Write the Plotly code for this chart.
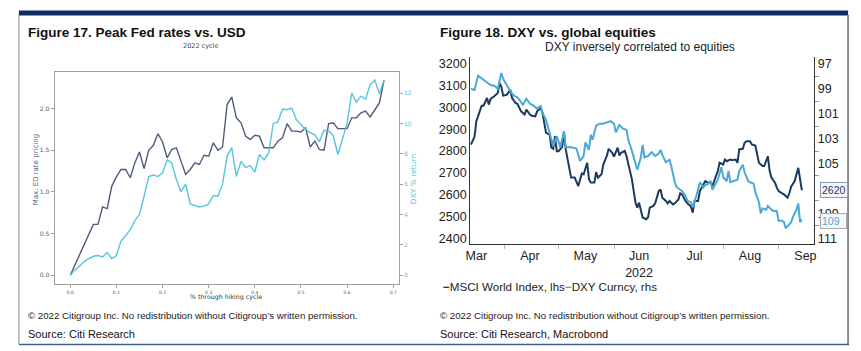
import pandas as pd
import plotly.graph_objects as go

W, H = 861, 351

# ---------------- Figure 17 data ----------------
hike_pct = [round(i * 0.01, 2) for i in range(69)]
ed_pricing = [0.00, 0.12, 0.25, 0.36, 0.48, 0.61, 0.61, 0.82, 0.80, 1.07,
              1.18, 1.27, 1.27, 1.17, 1.35, 1.48, 1.28, 1.50, 1.56, 1.70,
              1.60, 1.41, 1.51, 1.53, 1.37, 1.21, 1.27, 1.35, 1.33, 1.44,
              1.43, 1.59, 1.50, 1.54, 2.05, 2.14, 1.89, 1.83, 1.67, 1.63,
              1.68, 1.67, 1.53, 1.53, 1.53, 1.61, 1.65, 1.82, 1.73, 1.73,
              1.72, 1.77, 1.54, 1.61, 1.51, 1.50, 1.82, 1.83, 1.76, 1.76,
              1.76, 1.89, 1.89, 1.95, 1.97, 1.90, 1.99, 2.07, 2.34]
dxy_return = [0.0, 0.35, 0.6, 0.9, 1.1, 1.25, 1.3, 1.2, 1.5, 1.1,
              1.3, 2.25, 2.6, 3.0, 3.6, 4.0, 5.2, 6.5, 6.6, 6.5,
              6.75, 7.6, 7.4, 6.3, 5.5, 6.0, 4.7, 4.6, 4.5, 4.55,
              4.7, 5.25, 5.2, 6.0, 7.85, 8.4, 6.5, 7.5, 7.1, 7.2,
              6.8, 7.95, 7.6, 8.05, 10.0, 10.1, 10.95, 10.9, 11.0, 10.25,
              9.9, 9.6, 9.4, 9.25, 8.8, 9.55, 9.5, 9.2, 7.95, 9.05,
              10.0, 12.0, 11.4, 11.8, 11.6, 12.55, 12.85, 11.95, 12.85]
left_x_ticks = [0.0, 0.1, 0.2, 0.3, 0.4, 0.5, 0.6, 0.7]
left_y_ticks = [0.0, 0.5, 1.0, 1.5, 2.0]
right_y_ticks = [0, 2, 4, 6, 8, 10, 12]

# ---------------- Figure 18 data ----------------
base_date = pd.Timestamp("2022-03-01")
msci_day = [12, 14, 15, 17, 18, 19, 21, 22, 23, 25, 27, 28, 29, 30, 32, 34, 35, 37, 38, 40,
            42, 43, 45, 46, 48, 49, 51, 52, 53, 54, 56, 57, 58, 59, 60, 61, 63, 64, 65, 66,
            68, 70, 71, 72, 74, 75, 77, 78, 79, 81, 82, 83, 85, 86, 88, 89, 91, 92, 94, 95,
            96, 98, 99, 101, 102, 104, 105, 106, 108, 110, 111, 112, 114, 115, 117, 118, 119, 121, 122, 123,
            125, 126, 128, 129, 130, 132, 133, 135, 136, 137, 139, 140, 142, 143, 144, 146, 147, 149, 150, 151,
            153, 154, 155, 157, 158, 160, 161, 162, 164, 165, 166, 168, 169, 171, 172, 173, 175, 176, 178, 179,
            180, 182, 183, 184, 186, 187, 189, 190, 191, 193, 194, 195, 197]
msci = [2830, 2865, 2936, 2982, 3008, 3008, 3043, 3013, 3039, 3051, 3066, 3112, 3094, 3054, 3058, 3081, 3043, 3020, 3017, 2982,
        2967, 2990, 2967, 2962, 2959, 2982, 2998, 2975, 2929, 2883, 2875, 2815, 2810, 2868, 2799, 2799, 2819, 2886, 2807, 2769,
        2678, 2678, 2657, 2639, 2697, 2693, 2746, 2670, 2655, 2655, 2703, 2678, 2693, 2738, 2779, 2810, 2792, 2774, 2815, 2779,
        2792, 2800, 2776, 2708, 2670, 2563, 2540, 2563, 2495, 2487, 2495, 2540, 2548, 2560, 2616, 2624, 2586, 2571, 2560, 2571,
        2555, 2560, 2578, 2606, 2601, 2571, 2560, 2545, 2517, 2571, 2571, 2616, 2647, 2662, 2657, 2655, 2639, 2685, 2708, 2746,
        2738, 2761, 2753, 2761, 2758, 2761, 2746, 2807, 2810, 2838, 2845, 2845, 2830, 2825, 2792, 2746, 2731, 2731, 2776, 2708,
        2678, 2655, 2632, 2616, 2606, 2601, 2586, 2606, 2636, 2662, 2693, 2723, 2620]
dxy_day = [12, 14, 16, 18, 20, 21, 23, 25, 27, 29, 30, 32, 34, 36, 38, 39, 41, 43, 45, 47,
           49, 51, 52, 54, 55, 57, 58, 60, 62, 64, 65, 68, 70, 71, 73, 75, 76, 78, 79, 80,
           82, 84, 86, 88, 90, 92, 93, 95, 97, 99, 100, 102, 104, 105, 107, 108, 109, 111, 113, 115,
           117, 118, 119, 121, 123, 124, 126, 127, 129, 130, 132, 133, 135, 136, 138, 139, 140, 142, 143, 144,
           146, 147, 149, 150, 152, 153, 155, 156, 157, 159, 161, 162, 164, 165, 167, 168, 170, 171, 173, 174,
           175, 177, 178, 180, 181, 183, 184, 186, 187, 188, 190, 191, 192, 194, 195, 196, 197]
dxy = [99.0, 99.1, 97.96, 98.2, 98.4, 98.5, 98.7, 98.76, 99.0, 97.74, 98.2, 98.7, 99.2, 99.56, 99.7, 99.88, 100.28, 99.8, 100.2, 100.36,
       100.6, 100.4, 100.94, 101.5, 102.0, 102.9, 103.6, 102.8, 103.7, 102.4, 103.7, 103.7, 103.8, 103.8, 104.8, 104.4, 103.3, 103.9, 102.7, 103.1,
       101.96, 101.8, 101.8, 101.7, 101.6, 101.8, 102.5, 101.9, 102.2, 102.3, 103.1, 104.0, 105.1, 105.5, 104.5, 103.5, 104.5, 104.4, 104.1, 104.4,
       104.2, 103.9, 104.3, 104.9, 104.7, 105.2, 106.5, 106.9, 107.1, 107.2, 107.6, 108.0, 108.1, 108.5, 107.6, 107.1, 106.5, 106.9, 106.7, 106.7,
       106.4, 107.1, 106.5, 106.3, 105.3, 106.1, 106.4, 105.6, 106.5, 106.4, 106.3, 105.6, 105.1, 105.7, 106.4, 106.5, 106.6, 107.3, 108.1, 109.0,
       108.6, 108.7, 108.4, 108.7, 108.8, 108.8, 109.6, 109.6, 109.7, 110.2, 109.9, 109.7, 109.3, 108.7, 108.2, 109.7, 109.5]
msci_ticks = [2400, 2500, 2600, 2700, 2800, 2900, 3000, 3100, 3200]
dxy_ticks = [97, 99, 101, 103, 105, 109, 111]   # 107 is hidden behind the last-value box
dxy_minor = [98, 100, 102, 104, 106, 108, 110]
month_mid = ["2022-03-16", "2022-04-15", "2022-05-16", "2022-06-15", "2022-07-16", "2022-08-16", "2022-09-16"]
month_labels = ["Mar", "Apr", "May", "Jun<br>2022", "Jul", "Aug", "Sep"]
month_start = ["2022-04-01", "2022-05-01", "2022-06-01", "2022-07-01", "2022-08-01", "2022-09-01"]
msci_last, dxy_last = "2620", "109"

msci_dates = [base_date + pd.Timedelta(days=d) for d in msci_day]
dxy_dates = [base_date + pd.Timedelta(days=d) for d in dxy_day]


def fx(p):
    return p / W


def fy(p):
    return 1 - p / H


NAVY = "#1b3a5e"
LBLUE = "#4aa9d6"
SLATE = "#4f5b7c"
CYAN = "#55c6dc"
ARIAL = "Liberation Sans"
MPL = "DejaVu Sans"

fig = go.Figure()
fig.add_trace(go.Scatter(x=hike_pct, y=ed_pricing, mode="lines", line=dict(color=SLATE, width=1.4),
                         xaxis="x", yaxis="y", showlegend=False))
fig.add_trace(go.Scatter(x=hike_pct, y=dxy_return, mode="lines", line=dict(color=CYAN, width=1.4),
                         xaxis="x", yaxis="y2", showlegend=False))
fig.add_trace(go.Scatter(x=msci_dates, y=msci, mode="lines", line=dict(color=NAVY, width=2),
                         xaxis="x2", yaxis="y3", name="MSCI World Index, lhs", showlegend=False))
fig.add_trace(go.Scatter(x=dxy_dates, y=dxy, mode="lines", line=dict(color=LBLUE, width=2),
                         xaxis="x2", yaxis="y4", name="DXY Curncy, rhs", showlegend=False))

frame = "#a0a0a0"
fig.update_layout(
    width=W, height=H, margin=dict(l=0, r=0, t=0, b=0),
    paper_bgcolor="white", plot_bgcolor="white",
    xaxis=dict(domain=[fx(50), fx(397)], anchor="y", range=[-0.034, 0.712],
               tickvals=left_x_ticks, ticktext=[f"{v:.1f}" for v in left_x_ticks],
               tickfont=dict(family=MPL, size=4.5, color="#555"),
               showline=True, mirror=True, linecolor=frame, linewidth=1,
               ticks="outside", ticklen=3, tickcolor=frame, showgrid=False, zeroline=False),
    yaxis=dict(domain=[fy(285), fy(72)], anchor="x", range=[-0.108, 2.443],
               tickvals=left_y_ticks, ticktext=[f"{v:.1f}" for v in left_y_ticks],
               tickfont=dict(family=MPL, size=6, color=SLATE),
               showline=True, mirror=True, linecolor=frame, linewidth=1,
               ticks="outside", ticklen=3, tickcolor=frame, showgrid=False, zeroline=False),
    yaxis2=dict(overlaying="y", side="right", anchor="x", range=[-0.59, 13.40],
                tickvals=right_y_ticks, tickfont=dict(family=MPL, size=6, color=CYAN),
                ticks="outside", ticklen=3, tickcolor=frame, showgrid=False, zeroline=False,
                showline=False),
    xaxis2=dict(domain=[fx(469), fx(816)], anchor="y3", type="date",
                range=["2022-03-12 14:00", "2022-09-21"],
                tickvals=month_mid, ticktext=month_labels, ticks="",
                minor=dict(tickvals=month_start, ticks="outside", ticklen=4, tickcolor="#bbbbbb"),
                tickfont=dict(family=ARIAL, size=12.5, color="#222"),
                showline=True, linecolor="#333", linewidth=1, showgrid=False, zeroline=False),
    yaxis3=dict(domain=[fy(245), fy(57)], anchor="x2", range=[2372, 3232],
                tickvals=msci_ticks, ticks="", tickfont=dict(family=ARIAL, size=12.5, color="#222"),
                showline=True, linecolor="#333", linewidth=1, showgrid=False, zeroline=False),
    yaxis4=dict(overlaying="y3", side="right", anchor="x2", range=[111.48, 96.44],
                tickvals=dxy_ticks, ticks="",
                minor=dict(tickvals=dxy_minor, ticks="outside", ticklen=4, tickcolor="#999"),
                tickfont=dict(family=ARIAL, size=12.5, color="#222"),
                showline=True, linecolor="#333", linewidth=1, showgrid=False, zeroline=False),
)

ann = []


def text(x, y, s, size, color="#111", family=ARIAL, xanchor="left", angle=0, **kw):
    ann.append(dict(x=fx(x), y=fy(y), xref="paper", yref="paper", text=s, showarrow=False,
                    xanchor=xanchor, yanchor="middle", textangle=angle,
                    font=dict(family=family, size=size, color=color), **kw))


# headers
text(21, 33, "<b>Figure 17. Peak Fed rates vs. USD</b>", 13.5, "#111", ARIAL)
text(437, 33, "<b>Figure 18. DXY vs. global equities</b>", 13.5, "#111", ARIAL)
text(197, 46, "2022 cycle", 6.5, "#444", MPL, "center")
text(640, 47, "DXY inversely correlated to equities", 12, "#222", ARIAL, "center")
# left chart axis titles
text(31, 170, "Max. ED rate pricing", 7, SLATE, MPL, "center", -90)
text(412, 179, "DXY % return", 7.5, CYAN, MPL, "center", -90)
text(223, 298, "% through hiking cycle", 6.3, "#333", MPL, "center")
# legend (right chart)
text(440, 287, f'<span style="color:{NAVY}"><b>−</b></span>MSCI World Index, lhs'
               f'<span style="color:{LBLUE}"><b>−</b></span>DXY Curncy, rhs', 11.6, "#222", ARIAL)
# footers
cr = "© 2022 Citigroup Inc. No redistribution without Citigroup’s written permission."
text(21, 316, cr, 9.7, "#222", ARIAL)
text(437, 316, cr, 9.7, "#222", ARIAL)
text(21, 335, "Source: Citi Research", 11, "#111", ARIAL)
text(437, 335, "Source: Citi Research, Macrobond", 11, "#111", ARIAL)
# last value boxes
text(822, 191, msci_last, 10.5, NAVY, ARIAL, "left", bordercolor="#8a98b8", borderwidth=1,
     borderpad=1, bgcolor="#f4f6fb")
text(822, 222, dxy_last + "  ", 10.5, LBLUE, ARIAL, "left", bordercolor="#aaaaaa", borderwidth=1,
     borderpad=1, bgcolor="#f6f6f6")

fig.update_layout(annotations=ann)

shapes = [
    dict(type="rect", xref="paper", yref="paper", x0=fx(14), x1=fx(850), y0=fy(15.5), y1=fy(10.5),
         fillcolor="#0f2d63", line=dict(width=0), layer="above"),
    dict(type="line", xref="paper", yref="paper", x0=fx(14), x1=fx(14), y0=fy(15), y1=fy(345),
         line=dict(color="#888", width=1)),
    dict(type="line", xref="paper", yref="paper", x0=fx(850), x1=fx(850), y0=fy(15), y1=fy(345),
         line=dict(color="#8a8a8a", width=2)),
    dict(type="line", xref="paper", yref="paper", x0=fx(14), x1=fx(851), y0=fy(345.5), y1=fy(345.5),
         line=dict(color="#3d5f92", width=1.5)),
]
fig.update_layout(shapes=shapes)

fig.write_html("out.html")
